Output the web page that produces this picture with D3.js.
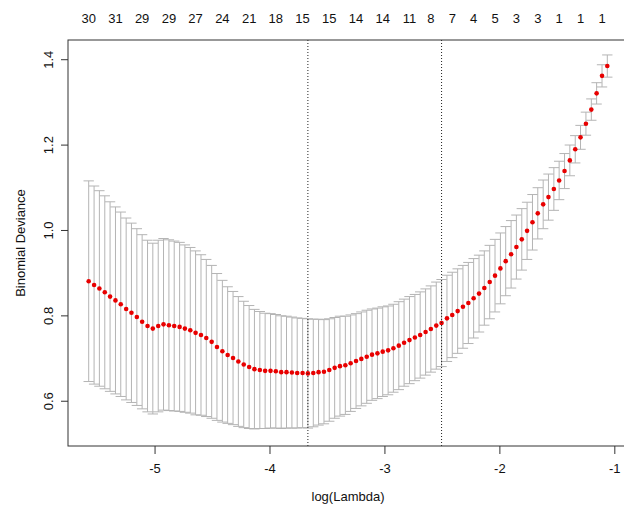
<!DOCTYPE html>
<html>
<head>
<meta charset="utf-8">
<script src="https://cdn.jsdelivr.net/npm/d3@7"></script>
<style>
  html, body { margin: 0; padding: 0; background: #fff; }
  svg { display: block; font-family: "Liberation Sans", Arial, Helvetica, sans-serif; }
</style>
</head>
<body>
<svg id="chart" width="624" height="508"></svg>
<script>
// log(lambda) sequence of the cross-validated fit
const logLambda = [
  -5.573,-5.526,-5.480,-5.433,-5.387,-5.340,-5.294,-5.247,-5.201,-5.154,
  -5.108,-5.061,-5.015,-4.968,-4.922,-4.875,-4.829,-4.782,-4.736,-4.689,
  -4.643,-4.596,-4.550,-4.503,-4.457,-4.410,-4.364,-4.317,-4.271,-4.224,
  -4.177,-4.131,-4.084,-4.038,-3.991,-3.945,-3.898,-3.852,-3.805,-3.759,
  -3.712,-3.666,-3.619,-3.573,-3.526,-3.480,-3.433,-3.387,-3.340,-3.294,
  -3.247,-3.201,-3.154,-3.108,-3.061,-3.015,-2.968,-2.922,-2.875,-2.829,
  -2.782,-2.735,-2.689,-2.642,-2.596,-2.549,-2.503,-2.456,-2.410,-2.363,
  -2.317,-2.270,-2.224,-2.177,-2.131,-2.084,-2.038,-1.991,-1.945,-1.898,
  -1.852,-1.805,-1.759,-1.712,-1.666,-1.619,-1.573,-1.526,-1.480,-1.433,
  -1.387,-1.340,-1.294,-1.247,-1.200,-1.154,-1.107,-1.061
];
// mean cross-validated binomial deviance
const cvm = [
  0.880,0.871,0.863,0.854,0.844,0.835,0.826,0.815,0.806,0.796,
  0.785,0.775,0.769,0.775,0.779,0.777,0.775,0.773,0.769,0.765,
  0.759,0.754,0.747,0.738,0.726,0.716,0.707,0.700,0.692,0.685,
  0.679,0.674,0.672,0.670,0.670,0.669,0.667,0.667,0.666,0.665,
  0.665,0.664,0.665,0.667,0.668,0.672,0.677,0.681,0.683,0.688,
  0.693,0.698,0.703,0.708,0.711,0.715,0.718,0.723,0.729,0.736,
  0.742,0.748,0.754,0.761,0.768,0.776,0.782,0.793,0.801,0.810,
  0.820,0.829,0.840,0.851,0.864,0.878,0.893,0.910,0.927,0.943,
  0.960,0.978,0.998,1.018,1.039,1.060,1.077,1.096,1.116,1.138,
  1.163,1.189,1.217,1.249,1.282,1.320,1.361,1.384
];
// standard error of the cross-validated deviance
const cvsd = [
  0.235,0.232,0.229,0.226,0.222,0.219,0.216,0.213,0.210,0.207,
  0.204,0.201,0.200,0.201,0.201,0.200,0.199,0.198,0.196,0.194,
  0.192,0.188,0.184,0.179,0.172,0.166,0.160,0.156,0.152,0.148,
  0.144,0.140,0.137,0.135,0.134,0.133,0.132,0.131,0.130,0.129,
  0.128,0.128,0.126,0.124,0.122,0.120,0.118,0.117,0.115,0.113,
  0.111,0.110,0.109,0.107,0.106,0.105,0.104,0.103,0.103,0.102,
  0.102,0.101,0.101,0.101,0.101,0.102,0.102,0.101,0.100,0.099,
  0.097,0.095,0.093,0.090,0.087,0.086,0.085,0.083,0.081,0.079,
  0.075,0.072,0.067,0.065,0.060,0.057,0.054,0.050,0.045,0.041,
  0.036,0.032,0.028,0.027,0.025,0.025,0.026,0.026
];
// numbers of non-zero coefficients printed on the top axis
const nzLambda = [-5.573,-5.340,-5.108,-4.875,-4.643,-4.410,-4.177,-3.945,-3.712,-3.480,
                  -3.247,-3.015,-2.782,-2.596,-2.410,-2.224,-2.038,-1.852,-1.666,-1.480,-1.294,-1.107];
const nzLabels = ["30","31","29","29","27","24","21","18","15","15",
                  "14","14","11","8","7","4","5","3","3","1","1","1"];
// selected lambdas
const lambdaMin = -3.666;
const lambda1se = -2.503;
// axis ticks
const xTicks = [-5, -4, -3, -2, -1];
const yTicks = [0.6, 0.8, 1.0, 1.2, 1.4];
const yTickLabels = ["0.6", "0.8", "1.0", "1.2", "1.4"];

const svg = d3.select("#chart");
const L = 68, R = 628, T = 40, B = 446;
const x = d3.scaleLinear().domain([-5.753, -0.881]).range([L, R]);
const y = d3.scaleLinear().domain([0.494, 1.445]).range([B, T]);
const fs = 13;

const data = logLambda.map((l, i) => ({ l, m: cvm[i], up: cvm[i] + cvsd[i], lo: cvm[i] - cvsd[i] }));
const barw = 0.045;
const grey = "#b4b4b4";

// error bars
const eb = svg.append("g").attr("stroke", grey).attr("stroke-width", 1).attr("fill", "none");
eb.selectAll("line.v").data(data).join("line")
  .attr("x1", d => x(d.l)).attr("x2", d => x(d.l))
  .attr("y1", d => y(d.lo)).attr("y2", d => y(d.up));
eb.selectAll("line.u").data(data).join("line").attr("class", "u")
  .attr("x1", d => x(d.l - barw)).attr("x2", d => x(d.l + barw))
  .attr("y1", d => y(d.up)).attr("y2", d => y(d.up));
eb.selectAll("line.lo").data(data).join("line").attr("class", "lo")
  .attr("x1", d => x(d.l - barw)).attr("x2", d => x(d.l + barw))
  .attr("y1", d => y(d.lo)).attr("y2", d => y(d.lo));

// points
svg.append("g").selectAll("circle").data(data).join("circle")
  .attr("cx", d => x(d.l)).attr("cy", d => y(d.m)).attr("r", 2.3)
  .attr("fill", "#e80000");

// dotted lines at lambda.min and lambda.1se
svg.append("g").selectAll("line").data([lambdaMin, lambda1se]).join("line")
  .attr("x1", d => x(d)).attr("x2", d => x(d))
  .attr("y1", T).attr("y2", B)
  .attr("stroke", "#222").attr("stroke-width", 1).attr("stroke-dasharray", "1,2");

// box
svg.append("rect").attr("x", L).attr("y", T).attr("width", R - L).attr("height", B - T)
  .attr("fill", "none").attr("stroke", "#333").attr("stroke-width", 1);

// bottom axis
const gx = svg.append("g").attr("transform", `translate(0,${B})`)
  .call(d3.axisBottom(x).tickValues(xTicks).tickSize(8).tickPadding(10).tickFormat(d => String(d)));
gx.select(".domain").remove();
gx.selectAll(".tick line").attr("stroke", "#333");
gx.selectAll("text").attr("font-size", fs).attr("fill", "#111").attr("font-family", null);
gx.attr("font-family", null);

// left axis
const gy = svg.append("g").attr("transform", `translate(${L},0)`)
  .call(d3.axisLeft(y).tickValues(yTicks).tickSize(7).tickFormat((d, i) => yTickLabels[i]));
gy.select(".domain").remove();
gy.attr("font-family", null);
gy.selectAll(".tick line").attr("stroke", "#333");
gy.selectAll("text")
  .attr("font-size", fs).attr("fill", "#111")
  .attr("transform", "rotate(-90)")
  .attr("x", 0).attr("y", -20).attr("dy", "0.35em")
  .attr("text-anchor", "middle");

// top labels (non-zero counts)
svg.append("g").selectAll("text").data(nzLabels).join("text")
  .attr("x", (d, i) => x(nzLambda[i])).attr("y", 22.5)
  .attr("text-anchor", "middle").attr("font-size", fs).attr("fill", "#111")
  .text(d => d);

// axis titles
svg.append("text").attr("x", (L + R) / 2).attr("y", 496).attr("dy", "0.35em")
  .attr("text-anchor", "middle").attr("font-size", fs).attr("fill", "#111")
  .text("log(Lambda)");
svg.append("text").attr("transform", `translate(20,${(T + B) / 2}) rotate(-90)`)
  .attr("dy", "0.35em").attr("text-anchor", "middle").attr("font-size", fs).attr("fill", "#111")
  .text("Binomial Deviance");
</script>
</body>
</html>
